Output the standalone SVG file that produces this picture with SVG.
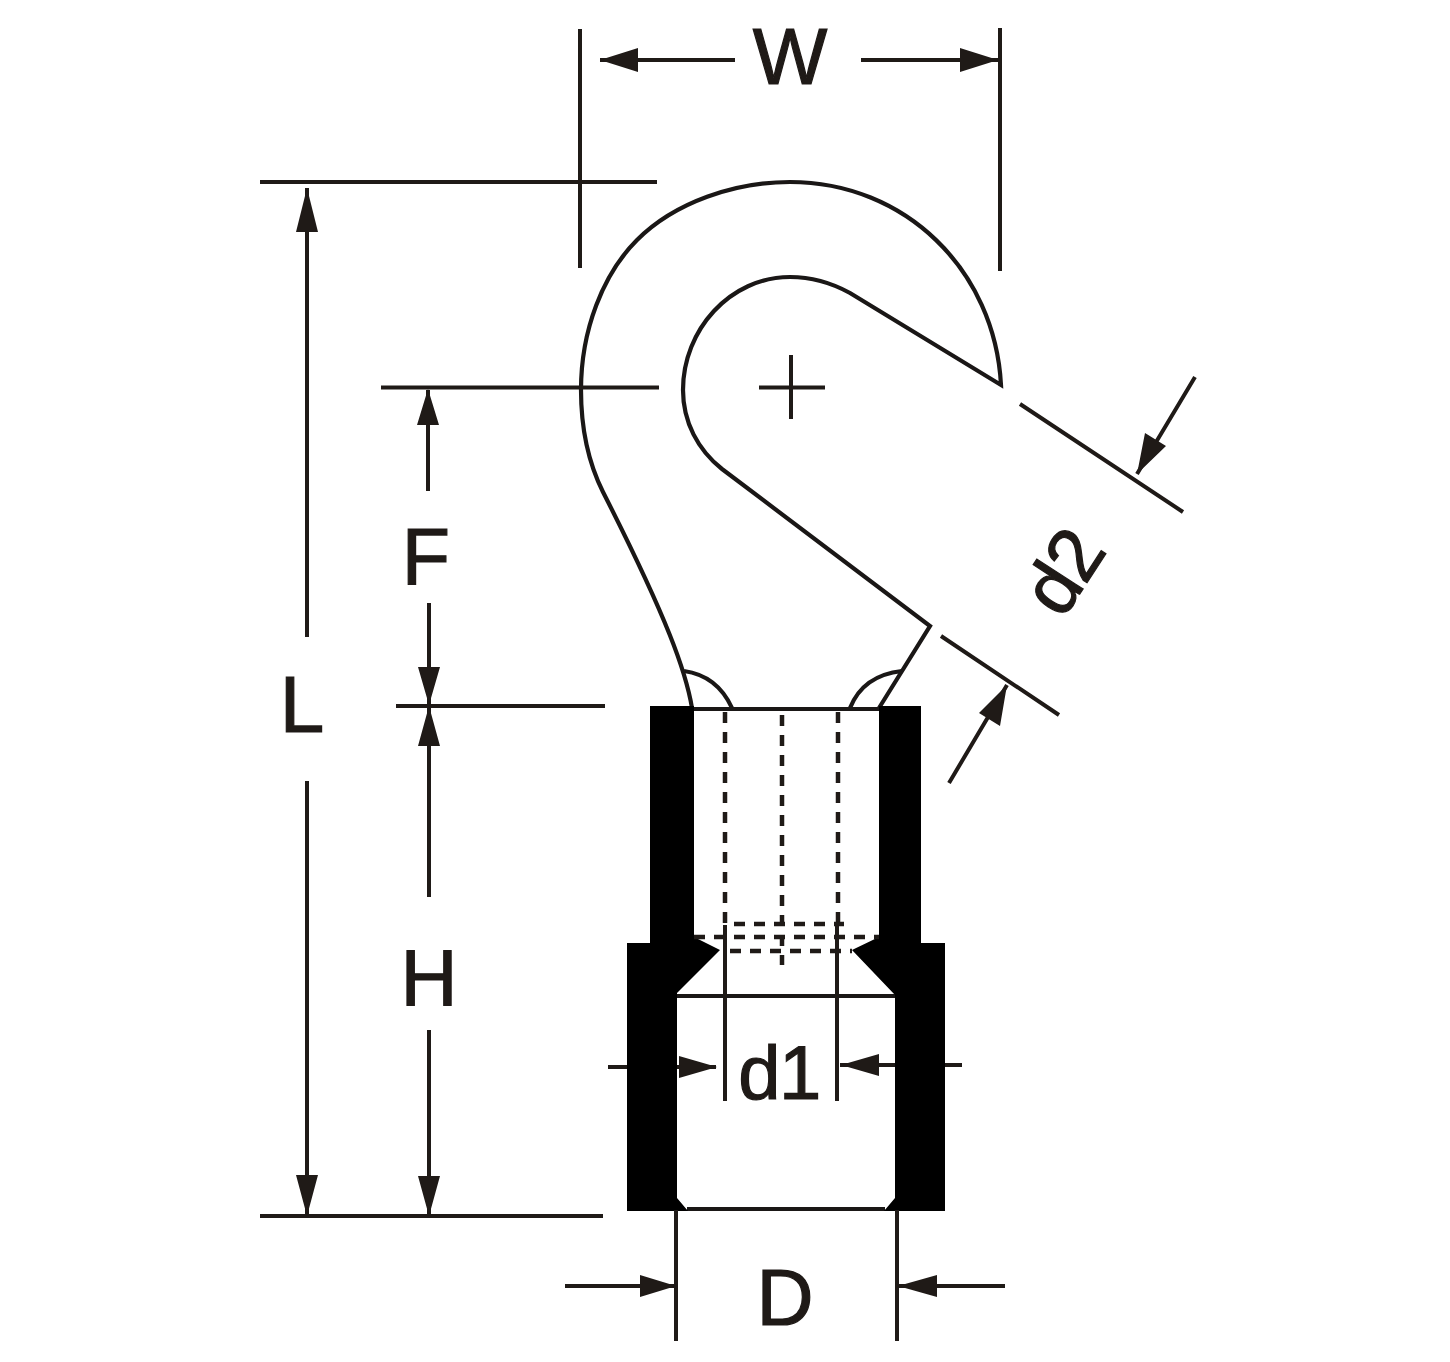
<svg xmlns="http://www.w3.org/2000/svg" width="1450" height="1362" viewBox="0 0 1450 1362">
<style>
.l{fill:none;stroke:#1f1a17;stroke-width:4}
.o{fill:none;stroke:#1a1716;stroke-width:4.2}
.d{fill:none;stroke:#1f1a17;stroke-width:4.5;stroke-dasharray:11 9}
.b{fill:#000}
.a{fill:#1f1a17}
text{font-family:"Liberation Sans",Arial,sans-serif;fill:#1f1a17;text-anchor:middle;stroke:#1f1a17;stroke-width:1.2}
.t{letter-spacing:-1.500px}
</style>
<rect width="1450" height="1362" fill="#fff"/>
<g id="terminal">
<path class="o" d="M692 708C686 672 668 620 603 492C588 462 581 428 581 390C581 330 603 274 637 240C675 202 735 182 790 182C905 182 995 270 1001 385L850 293C830 282 810 277 790 277C730 277 683 330 683 390C683 422 698 450 722 469L930 626L879 708"/>
<path class="o" d="M684 671C705 674 722 686 732 708M850 708C858 688 875 674 902 671"/>
<path class="o" d="M692 709H879M677 996H895M687 1209H885"/>
<path class="b" d="M650 706H694V937L720 950L677 993V1198L688 1211H627V943H650Z"/>
<path class="b" d="M921 706H879V937L852 950L895 995V1198L884 1211H945V943H921Z"/>
<path class="d" d="M725 712V925M782 715V965M838 712V925"/>
<path class="d" d="M734 924H844M694 937H879M730 951H852"/>
</g>
<g id="connectors">
<path class="l" d="M580 29V268M1000 28V271M600 60H735M861 60H998M260 182H657M307 188V637M307 781V1216M260 1216H603M381 387.500H659M428 390V491M429 603V705M396 706H605M429 706V897M429 1030V1216M759 387.500H825M791 355V419"/>
<path class="l" d="M608 1067H627M677 1067H716M840 1065H895M945 1065H962M725 925V1101M837 925V1101M565 1286H676M898 1286H1005M676 1210V1341M897 1210V1341"/>
<path class="l" d="M1020 404L1183 512M941 636L1059 715M1195 377L1137 474M949 783L1007 685"/>
<path class="a" d="M600 60L638 48V72ZM998 60L960 48V72ZM307 188L296 232H318ZM307 1216L296 1175H318ZM428 389L417 425H439ZM429 705L418 667H440ZM429 706L418 746H440ZM429 1216L418 1176H440ZM717 1067L679 1056V1078ZM841 1065L879 1054V1076ZM676 1286L640 1275V1297ZM898 1286L937 1275V1297ZM1137 474L1145 433L1166 446ZM1007 685L1000 726L979 713Z"/>
</g>
<g id="labels">
<text x="790" y="84" font-size="79">W</text>
<text x="302" y="732" font-size="80">L</text>
<text x="426" y="584" font-size="79">F</text>
<text x="429" y="1005" font-size="79">H</text>
<text class="t" x="779" y="1099" font-size="76">d1</text>
<text x="785" y="1325" font-size="79">D</text>
<text class="t" x="0" y="0" font-size="76" transform="translate(1085 586) rotate(-57)">d2</text>
</g>
</svg>
